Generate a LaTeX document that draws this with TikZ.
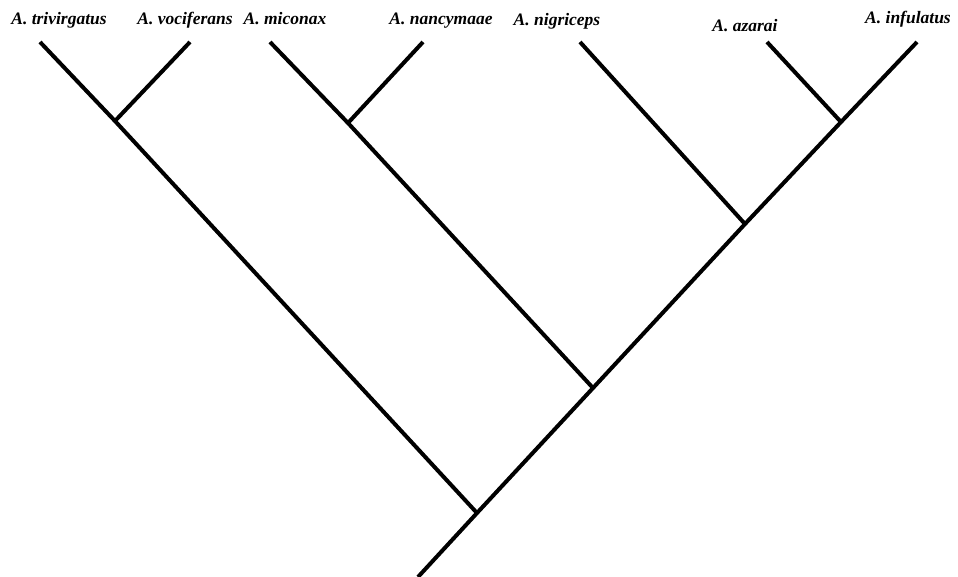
\documentclass[tikz,border=0pt]{standalone}
\usepackage{fontspec}
\setmainfont{Liberation Serif}
\usetikzlibrary{positioning}
\tikzset{branch/.style={line width=4pt,black},
taxon/.style={font=\bfseries\itshape\fontsize{17.5}{19}\selectfont,inner sep=0pt,anchor=base}}
\begin{document}
\begin{tikzpicture}[x=1pt,y=-1pt]
\useasboundingbox(0,0)rectangle(958,577);
%% nodes of the tree
\coordinate(base)at(418,577);
\coordinate(r0)at(477,513);
\coordinate(n1)at(115,121);
\coordinate(n2)at(593,388);
\coordinate(n3)at(348,123);
\coordinate(n4)at(745,224);
\coordinate(n5)at(841,122);
%% tips
\coordinate(ttri)at(40,42);
\coordinate(tvoc)at(190,42);
\coordinate(tmic)at(270,42);
\coordinate(tnan)at(423,42);
\coordinate(tnig)at(580,42);
\coordinate(taza)at(767,42);
\coordinate(tinf)at(917,42);
%% branches
\draw[branch](base)--(r0)--(n2)--(n4)--(n5)--(tinf);
\draw[branch](r0)--(n1)--(ttri);
\draw[branch](n1)--(tvoc);
\draw[branch](n2)--(n3)--(tmic);
\draw[branch](n3)--(tnan);
\draw[branch](n4)--(tnig);
\draw[branch](n5)--(taza);
%% labels
\node[taxon](ltri)at(59,25){A. trivirgatus};
\node[taxon](lvoc)at(185,25){A. vociferans};
\node[taxon](lmic)at(285,25){A. miconax};
\node[taxon](lnan)at(441,25){A. nancymaae};
\node[taxon](lnig)at(557,26){A. nigriceps};
\node[taxon](laza)at(745,32){A. azarai};
\node[taxon](linf)at(908,24){A. infulatus};
\end{tikzpicture}
\end{document}
